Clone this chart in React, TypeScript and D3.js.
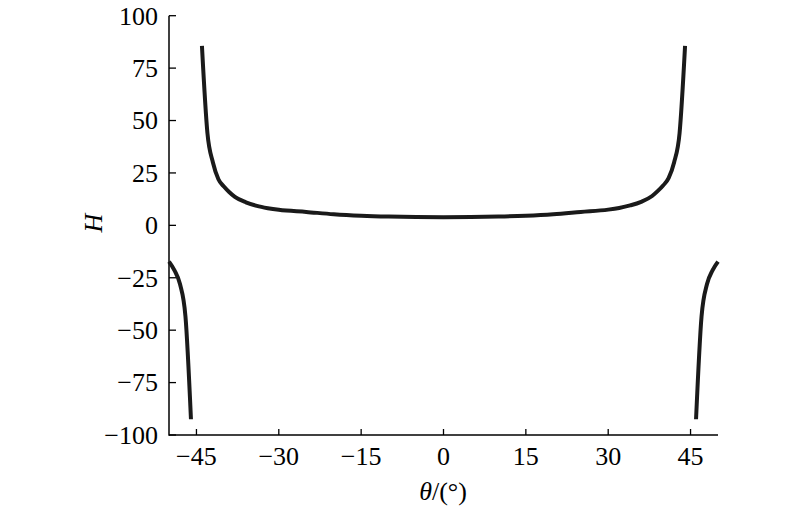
import React from 'react';
import * as d3 from 'd3';

// ---------------------------------------------------------------------------
// Data
// ---------------------------------------------------------------------------

// upper branch, theta in degrees
const upperTheta = [-44, -43, -42, -41, -40, -39, -38, -36, -34, -32, -30, -25, -20, -15, -10, -5, 0,
  5, 10, 15, 20, 25, 30, 32, 34, 36, 38, 39, 40, 41, 42, 43, 44];
const upperH = [85.6, 44, 30, 22, 18.5, 15.8, 13.6, 11, 9.3, 8.2, 7.4, 6.4, 5.3, 4.6, 4.2, 4.0, 3.9,
  4.0, 4.2, 4.6, 5.3, 6.4, 7.5, 8.3, 9.5, 11.2, 14, 16.3, 19, 22.5, 30, 44, 85.6];

// lower-left branch
const leftTheta = [-50, -49, -48, -47, -46];
const leftH = [-17.3, -21.5, -28, -43.5, -92.5];

// lower-right branch
const rightTheta = [46, 47, 48, 49, 50];
const rightH = [-92.5, -43.5, -28, -21.5, -17.3];

const xTicks = [-45, -30, -15, 0, 15, 30, 45];
const yTicks = [-100, -75, -50, -25, 0, 25, 50, 75, 100];

// ---------------------------------------------------------------------------
// Layout
// ---------------------------------------------------------------------------

const W = 800;
const H = 509;
const FONT = "'Liberation Serif', 'Times New Roman', Times, 'DejaVu Serif', serif";
const INK = '#1a1a1a';

const x = d3.scaleLinear().domain([-50, 50]).range([169, 718]);
const y = d3.scaleLinear().domain([-100, 100]).range([435, 15.7]);

const line = d3.line<[number, number]>()
  .x((d) => x(d[0]))
  .y((d) => y(d[1]))
  .curve(d3.curveMonotoneX);

const zip = (a: number[], b: number[]) => a.map((v, i) => [v, b[i]] as [number, number]);

const fmt = (v: number) => (v < 0 ? `\u2212${Math.abs(v)}` : String(v));

const textStyle: React.CSSProperties = { fontFamily: FONT, fontSize: 26 };

export default function App() {
  const branches = [zip(upperTheta, upperH), zip(leftTheta, leftH), zip(rightTheta, rightH)];
  const [x0, x1] = x.range();
  const [y0, y1] = y.range();

  return (
    <svg
      width={W}
      height={H}
      style={{ position: 'absolute', left: 0, top: 0, background: '#fff' }}
    >
      {/* axes */}
      <line x1={x0} x2={x0} y1={y1} y2={y0 + 0.75} stroke="#000" strokeWidth={1.5} />
      <line x1={x0} x2={x1} y1={y0} y2={y0} stroke="#000" strokeWidth={1.5} />

      {yTicks.map((t) => (
        <g key={`y${t}`}>
          <line x1={x0} x2={x0 + 7} y1={y(t)} y2={y(t)} stroke="#000" strokeWidth={1.3} />
          <text x={x0 - 11} y={y(t)} dy="0.34em" textAnchor="end" style={textStyle} fill="#000">
            {fmt(t)}
          </text>
        </g>
      ))}

      {xTicks.map((t) => (
        <g key={`x${t}`}>
          <line x1={x(t)} x2={x(t)} y1={y0} y2={y0 - 6} stroke="#000" strokeWidth={1.3} />
          <text x={x(t)} y={465} textAnchor="middle" style={textStyle} fill="#000">
            {fmt(t)}
          </text>
        </g>
      ))}

      {/* axis titles */}
      <text x={443} y={500} textAnchor="middle" style={textStyle} fill="#000">
        <tspan fontStyle="italic">θ</tspan>/(°)
      </text>
      <text
        transform="translate(102,223) rotate(-90)"
        textAnchor="middle"
        style={{ ...textStyle, fontStyle: 'italic' }}
        fill="#000"
      >
        H
      </text>

      {/* curves */}
      {branches.map((b, i) => (
        <path key={i} d={line(b) ?? ''} fill="none" stroke={INK} strokeWidth={4} strokeLinejoin="round" />
      ))}
    </svg>
  );
}
